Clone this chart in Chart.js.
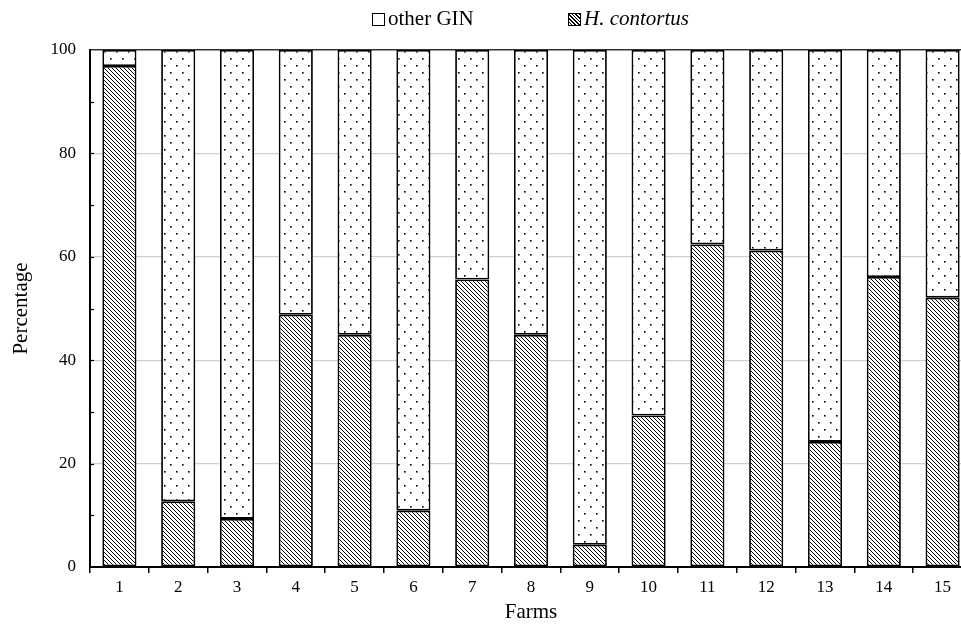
<!DOCTYPE html>
<html>
<head>
<meta charset="utf-8">
<script src="https://cdn.jsdelivr.net/npm/chart.js@4.4.0/dist/chart.umd.min.js"></script>
<style>
html,body{margin:0;padding:0;background:#fff;overflow:hidden;width:961px;height:625px;}
#wrap{position:relative;width:980px;height:625px;}
#legend{position:absolute;top:0;left:0;width:961px;height:40px;font-family:"Liberation Serif","Times New Roman",serif;font-size:21px;color:#000;}
.item{position:absolute;top:6px;white-space:nowrap;}
.box{display:inline-block;width:11px;height:11px;border:1px solid #000;vertical-align:-1px;margin-right:3px;background:#fff;}
.hb{background:repeating-linear-gradient(45deg,#fff 0,#fff 1.6px,#000 1.6px,#000 2.6px);}
</style>
</head>
<body>
<div id="wrap">
<canvas id="c" width="980" height="625" style="width:980px;height:625px;display:block;"></canvas>
<div id="legend">
  <div class="item" style="left:372px;"><span class="box"></span>other GIN</div>
  <div class="item" style="left:568px;"><span class="box hb"></span><i>H. contortus</i></div>
</div>
</div>
<script>
const farms = ['1','2','3','4','5','6','7','8','9','10','11','12','13','14','15'];
const hContortus = [96.9, 12.7, 9.3, 48.8, 44.9, 10.9, 55.6, 44.9, 4.3, 29.3, 62.4, 61.2, 24.2, 56.1, 52.1];
const otherGIN   = [3.1, 87.3, 90.7, 51.2, 55.1, 89.1, 44.4, 55.1, 95.7, 70.7, 37.6, 38.8, 75.8, 43.9, 47.9];
const yTicksMajor = [0, 20, 40, 60, 80, 100];

const canvas = document.getElementById('c');
const ctx = canvas.getContext('2d');

function hatchPattern(){
  const s = 4;
  const c = document.createElement('canvas'); c.width = s; c.height = s;
  const x = c.getContext('2d');
  x.fillStyle = '#fff'; x.fillRect(0,0,s,s);
  x.strokeStyle = '#000'; x.lineWidth = 1;
  x.beginPath();
  x.moveTo(-1,-1); x.lineTo(s+1,s+1);
  x.moveTo(-1,s-1); x.lineTo(1,s+1);
  x.moveTo(s-1,-1); x.lineTo(s+1,1);
  x.stroke();
  return ctx.createPattern(c,'repeat');
}
function dotPattern(){
  const w = 12, h = 14;
  const c = document.createElement('canvas'); c.width = w; c.height = h;
  const x = c.getContext('2d');
  x.fillStyle = '#fff'; x.fillRect(0,0,w,h);
  x.fillStyle = '#000';
  x.fillRect(2,2,1.6,1.6);
  x.fillRect(8,9,1.6,1.6);
  return ctx.createPattern(c,'repeat');
}

const minorTicks = {
  id: 'minorTicks',
  afterDatasetsDraw(chart){
    const y = chart.scales.y, a = chart.chartArea, g = chart.ctx;
    g.save();
    g.strokeStyle = '#000'; g.lineWidth = 1.2;
    for (let v = 10; v < 100; v += 10){
      const py = Math.round(y.getPixelForValue(v)) + 0.5;
      g.beginPath(); g.moveTo(a.left, py); g.lineTo(a.left + 4, py); g.stroke();
    }
    g.restore();
  }
};

new Chart(ctx, {
  type: 'bar',
  data: {
    labels: farms,
    datasets: [
      { label: 'H. contortus', data: hContortus, backgroundColor: hatchPattern(), borderColor: '#000', borderWidth: 1.8, borderSkipped: false },
      { label: 'other GIN', data: otherGIN, backgroundColor: dotPattern(), borderColor: '#000', borderWidth: 1.8, borderSkipped: false }
    ]
  },
  options: {
    responsive: false,
    animation: false,
    devicePixelRatio: 1,
    layout: { padding: { top: 50, right: 8, left: 0, bottom: 0 } },
    datasets: { bar: { barPercentage: 0.58, categoryPercentage: 1.0 } },
    plugins: { legend: { display: false }, tooltip: { enabled: false } },
    scales: {
      x: {
        stacked: true,
        offset: true,
        grid: { offset: true, drawOnChartArea: false, drawTicks: true, tickLength: 6, color: '#000', lineWidth: 1.5 },
        border: { display: true, color: '#000', width: 2 },
        ticks: { color: '#000', font: { family: 'Liberation Serif', size: 17 }, padding: 4, maxRotation: 0 },
        title: { display: true, text: 'Farms', color: '#000', font: { family: 'Liberation Serif', size: 21 }, padding: { top: 0, bottom: 0 } },
        afterFit(s){ s.height = 58; }
      },
      y: {
        stacked: true,
        min: 0, max: 100,
        ticks: {
          stepSize: 10,
          color: '#000',
          font: { family: 'Liberation Serif', size: 17 },
          padding: 14,
          callback: (v) => yTicksMajor.includes(v) ? String(v) : ''
        },
        grid: {
          drawTicks: false,
          color: (c) => { const v = c.tick && c.tick.value; if (v === 100) return '#333'; if (v > 0 && v < 100 && v % 20 === 0) return '#cfcfcf'; return 'rgba(0,0,0,0)'; },
          lineWidth: (c) => (c.tick && c.tick.value === 100) ? 1.5 : 1.2
        },
        border: { display: true, color: '#000', width: 2 },
        title: { display: true, text: 'Percentage', color: '#000', font: { family: 'Liberation Serif', size: 21 }, padding: { top: 9, bottom: 0 } },
        afterFit(s){ s.width = 90; }
      }
    }
  },
  plugins: [minorTicks]
});
</script>
</body>
</html>
